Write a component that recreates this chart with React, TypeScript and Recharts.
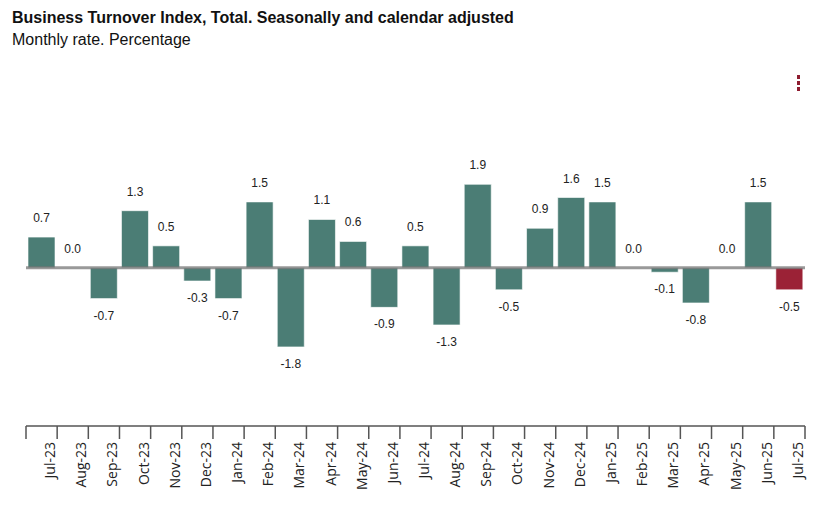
import React from "react";
import { BarChart, Bar, XAxis, YAxis, ReferenceLine, LabelList, Cell } from "recharts";

const months = [
  "Jul-23", "Aug-23", "Sep-23", "Oct-23", "Nov-23", "Dec-23", "Jan-24", "Feb-24", "Mar-24",
  "Apr-24", "May-24", "Jun-24", "Jul-24", "Aug-24", "Sep-24", "Oct-24", "Nov-24", "Dec-24",
  "Jan-25", "Feb-25", "Mar-25", "Apr-25", "May-25", "Jun-25", "Jul-25",
];
const rates = [
  0.7, 0.0, -0.7, 1.3, 0.5, -0.3, -0.7, 1.5, -1.8, 1.1, 0.6, -0.9, 0.5, -1.3, 1.9, -0.5, 0.9,
  1.6, 1.5, 0.0, -0.1, -0.8, 0.0, 1.5, -0.5,
];

const data = months.map((m, i) => ({ month: m, rate: rates[i] }));
const lastIdx = data.length - 1;

const TEAL = "#4b7d75";
const RED = "#9b2236";

function ValueLabel(props: any) {
  const { x, y, width, height, value } = props;
  const top = Math.min(y, y + height);
  const bottom = Math.max(y, y + height);
  const cx = x + width / 2;
  const neg = value < 0;
  return (
    <text
      x={cx}
      y={neg ? bottom + 17 : top - 19}
      textAnchor="middle"
      dominantBaseline="central"
      fontFamily="Arial, 'Liberation Sans', sans-serif"
      fontSize={12}
      fill="#222"
    >
      {Number(value).toFixed(1)}
    </text>
  );
}

function MonthTick(props: any) {
  const { x, y, payload, index } = props;
  const half = payload && payload.offset ? payload.offset : 779 / 25 / 2;
  return (
    <g>
      <line x1={x - half} y1={y - 8} x2={x - half} y2={y + 5} stroke="#555" strokeWidth={1.5} />
      {index === lastIdx && (
        <line x1={x + half} y1={y - 8} x2={x + half} y2={y + 5} stroke="#555" strokeWidth={1.5} />
      )}
      <text
        transform={`translate(${x + 8},${y + 8}) rotate(-90)`}
        textAnchor="end"
        dominantBaseline="central"
        fontFamily="'Open Sans', sans-serif"
        fontSize={14}
        fill="#222"
      >
        {payload.value}
      </text>
    </g>
  );
}

export default function App() {
  return (
    <div style={{ position: "absolute", left: 0, top: 0, width: 827, height: 512, background: "#fff" }}>
      <div
        style={{
          position: "absolute",
          left: 12,
          top: 8,
          fontFamily: "Arial, 'Liberation Sans', sans-serif",
          color: "#111",
        }}
      >
        <div style={{ fontSize: 16, fontWeight: 700, lineHeight: "20px" }}>
          Business Turnover Index, Total. Seasonally and calendar adjusted
        </div>
        <div style={{ fontSize: 16, lineHeight: "24px" }}>Monthly rate. Percentage</div>
      </div>
      {[0, 1, 2].map((k) => (
        <div
          key={k}
          style={{
            position: "absolute",
            left: 797,
            top: 75 + k * 6,
            width: 3,
            height: 4,
            background: "#8e1c30",
          }}
        />
      ))}
      <div style={{ position: "absolute", left: 0, top: 0 }}>
        <BarChart
          width={827}
          height={512}
          data={data}
          margin={{ top: 136, right: 22, bottom: 0, left: 26 }}
          barSize={27}
        >
          <YAxis hide domain={[-3.6, 3]} />
          <XAxis
            dataKey="month"
            interval={0}
            tickLine={false}
            axisLine={{ stroke: "#555", strokeWidth: 1.5 }}
            tick={<MonthTick />}
            height={86}
          />
          <Bar
            dataKey="rate"
            isAnimationActive={false}
            minPointSize={0.01}
            stroke="#ffffff"
            strokeOpacity={0.6}
            strokeWidth={1}
          >
            {data.map((d, i) => (
              <Cell key={d.month} fill={i === lastIdx ? RED : TEAL} />
            ))}
            <LabelList dataKey="rate" content={<ValueLabel />} />
          </Bar>
          <ReferenceLine y={0} stroke="#777" strokeOpacity={0.75} strokeWidth={3} />
        </BarChart>
      </div>
    </div>
  );
}
